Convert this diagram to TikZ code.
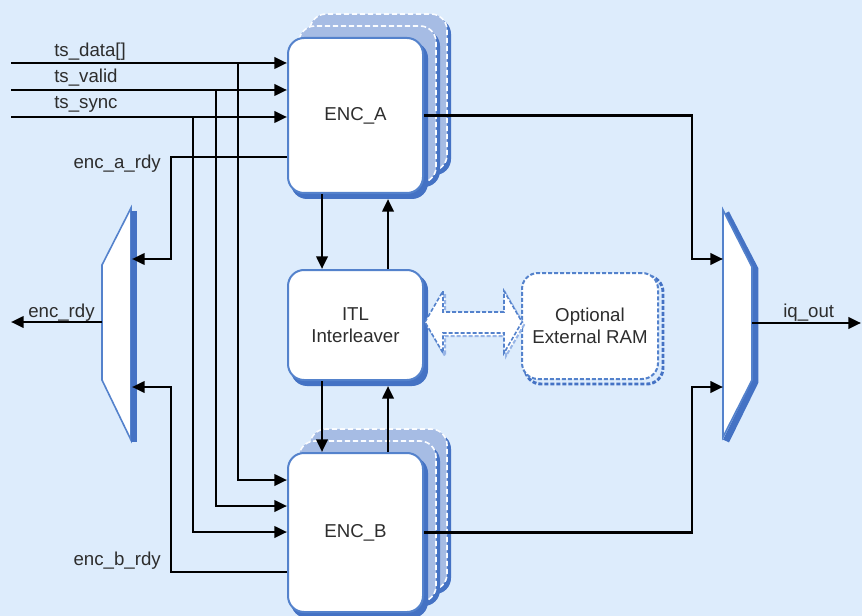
\documentclass[tikz,border=0pt]{standalone}
\usepackage{fontspec}
\setmainfont{Liberation Sans}
\usetikzlibrary{arrows.meta}
\definecolor{bgc}{RGB}{221,236,252}
\definecolor{bord}{RGB}{84,130,204}
\definecolor{shad}{RGB}{68,114,196}
\definecolor{layerfill}{RGB}{166,188,228}
\definecolor{txt}{RGB}{45,45,45}
\definecolor{lshad}{RGB}{150,180,230}
\pgfdeclarelayer{bgl}
\pgfdeclarelayer{back}
\pgfsetlayers{bgl,back,main}
\begin{document}
\begin{tikzpicture}[x=0.75pt,y=-0.75pt,
  box/.style={draw=bord, line width=1.5pt, fill=white, rounded corners=12pt,
    minimum width=101.25pt, inner sep=0pt, font=\fontsize{14}{16.5}\selectfont,
    text=txt, align=center},
  ramstyle/.style={box, dashed, dash pattern=on 3pt off 1.5pt, minimum width=102pt},
  layer/.style={fill=layerfill, draw=white!85!bgc, line width=1.2pt,
    dash pattern=on 4pt off 2pt, rounded corners=12pt},
  shadowbox/.style={fill=shad, rounded corners=12pt},
  wire/.style={line width=2pt, black},
  arr/.style={wire, -{Triangle[length=9.5pt,width=8.5pt]}},
  lbl/.style={font=\fontsize{14}{17}\selectfont, text=txt, inner sep=0pt},
  muxstyle/.style={fill=white, draw=bord, line width=1.2pt, line join=miter},
  bigarrow/.style={fill=white, draw=bord, line width=1.2pt, dash pattern=on 3pt off 1.5pt}
]
\begin{pgfonlayer}{bgl}
\fill[bgc] (0,0) rectangle (862,616);
\end{pgfonlayer}
\useasboundingbox (0,0) rectangle (862,616);

% main blocks
\node[box, minimum height=116.25pt] (encA) at (355.5,115.5) {ENC\_A};
\node[box, minimum height=119.25pt] (encB) at (355.5,532.5) {ENC\_B};
\node[box, minimum height=82.5pt] (itl) at (355.5,325) {ITL\\Interleaver};
\node[ramstyle, minimum height=79.5pt] (ram) at (590,326) {Optional\\External RAM};

\begin{pgfonlayer}{back}
  \foreach \n in {encA,encB}{
    \fill[shadowbox] ([shift={(27,-19)}]\n.south west) rectangle ([shift={(27,-19)}]\n.north east);
    \draw[layer] ([shift={(23,-23)}]\n.south west) rectangle ([shift={(23,-23)}]\n.north east);
    \fill[shadowbox] ([shift={(16,-7)}]\n.south west) rectangle ([shift={(16,-7)}]\n.north east);
    \draw[layer] ([shift={(12,-11)}]\n.south west) rectangle ([shift={(12,-11)}]\n.north east);
  }
  \foreach \n in {encA,encB,itl}{
    \fill[shadowbox] ([shift={(4,5)}]\n.south west) rectangle ([shift={(4,5)}]\n.north east);
  }
  \draw[shad, line width=2.2pt, dash pattern=on 3pt off 1.5pt, rounded corners=12pt]
    ([shift={(4,4)}]ram.south west) rectangle ([shift={(4,4)}]ram.north east);
\end{pgfonlayer}

% bidirectional hollow arrow
\draw[lshad, line width=1.5pt, dash pattern=on 3pt off 1.5pt, fill=white]
  (427,325) -- (445,294) -- (445,315) -- (506,315) -- (506,294) -- (524,325)
  -- (506,356) -- (506,336) -- (445,336) -- (445,356) -- cycle;
\draw[bigarrow] (425,322) -- (443,291) -- (443,312) -- (504,312) -- (504,291)
  -- (522,322) -- (504,353) -- (504,333) -- (443,333) -- (443,353) -- cycle;

% left mux
\draw[muxstyle] (131,208) -- (102,265) -- (102,380) -- (131,440) -- cycle;
\draw[shad, line width=4.5pt] (133.5,211) -- (133.5,442);
% right mux
\draw[shad, line width=5pt, line join=miter] (726,213) -- (755,269) -- (755,382) -- (726,441);
\draw[muxstyle] (723,210) -- (752,267) -- (752,380) -- (723,437) -- cycle;

% coordinates
\coordinate (tsd) at (11,63);
\coordinate (tsv) at (11,90);
\coordinate (tss) at (11,117);
\coordinate (bd) at (238,0);
\coordinate (bv) at (216,0);
\coordinate (bs) at (193,0);
\coordinate (xe) at (171,0);
\coordinate (yb1) at (0,480);
\coordinate (yb2) at (0,506);
\coordinate (yb3) at (0,532);
\coordinate (ya) at (0,157);
\coordinate (yb) at (0,572);
\coordinate (mL1) at (132,259);
\coordinate (mL2) at (132,387);
\coordinate (mLo) at (102,322);
\coordinate (rdyend) at (11,322);
\coordinate (mR1) at (723,259);
\coordinate (mR2) at (723,387);
\coordinate (mRo) at (752,323);
\coordinate (iqend) at (861,323);
\coordinate (xr) at (692,0);
\coordinate (x1) at (322,0);
\coordinate (x2) at (388,0);

% inputs
\draw[arr] (tsd) -- (tsd -| encA.west);
\draw[arr] (tsv) -- (tsv -| encA.west);
\draw[arr] (tss) -- (tss -| encA.west);
\draw[arr] (tsd -| bd) -- (bd |- yb1) -- (yb1 -| encB.west);
\draw[arr] (tsv -| bv) -- (bv |- yb2) -- (yb2 -| encB.west);
\draw[arr] (tss -| bs) -- (bs |- yb3) -- (yb3 -| encB.west);

% ready signals
\draw[arr] (ya -| encA.west) -- (ya -| xe) -- (xe |- mL1) -- (mL1);
\draw[arr] (yb -| encB.west) -- (yb -| xe) -- (xe |- mL2) -- (mL2);
\draw[arr] (mLo) -- (rdyend);

% encoder <-> interleaver
\draw[arr] (encA.south -| x1) -- (itl.north -| x1);
\draw[arr] (itl.north -| x2) -- ([yshift=-3.75pt]encA.south -| x2);
\draw[arr] (itl.south -| x1) -- (encB.north -| x1);
\draw[arr] (encB.north -| x2) -- ([yshift=-3.75pt]itl.south -| x2);

% outputs
\draw[arr] (encA.east) -- (encA.east -| xr) -- (xr |- mR1) -- (mR1);
\draw[arr] (encB.east) -- (encB.east -| xr) -- (xr |- mR2) -- (mR2);
\draw[arr] (mRo) -- (iqend);

% labels
\node[lbl, anchor=base west] (l1) at (54,57) {ts\_data[]};
\node[lbl, anchor=base west] (l2) at (54,83) {ts\_valid};
\node[lbl, anchor=base west] (l3) at (54,109) {ts\_sync};
\node[lbl, anchor=base east] (l4) at (161,169) {enc\_a\_rdy};
\node[lbl, anchor=base east] (l5) at (161,565) {enc\_b\_rdy};
\node[lbl, anchor=base west] (l6) at (28,317) {enc\_rdy};
\node[lbl, anchor=base west] (l7) at (783,317) {iq\_out};
\end{tikzpicture}
\end{document}
